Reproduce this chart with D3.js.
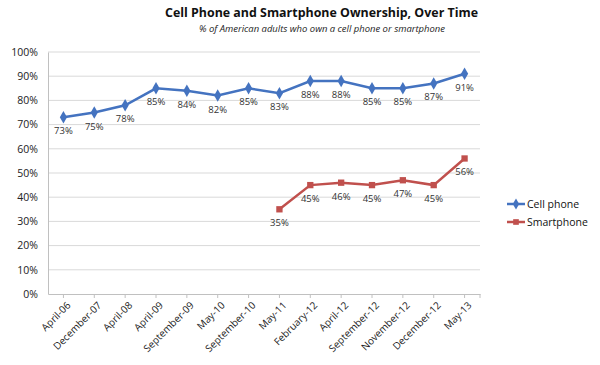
<!DOCTYPE html>
<html><head><meta charset="utf-8">
<script src="https://cdn.jsdelivr.net/npm/d3@7"></script>
<style>body{margin:0;background:#fff}svg{display:block}text{font-family:"Open Sans","Noto Sans",sans-serif}</style>
</head><body><svg id="c" width="600" height="365"></svg>
<script>
const categories = ["April-06","December-07","April-08","April-09","September-09","May-10","September-10","May-11","February-12","April-12","September-12","November-12","December-12","May-13"];
const cellPhone = [73,75,78,85,84,82,85,83,88,88,85,85,87,91];
const smartphone = [null,null,null,null,null,null,null,35,45,46,45,47,45,56];
const yTicks = [0,10,20,30,40,50,60,70,80,90,100];
const seriesNames = ["Cell phone","Smartphone"];

const svg = d3.select("#c");
const m = {l:48, r:480, t:52, b:294};
const x = d3.scaleBand().domain(categories).range([m.l, m.r]);
const y = d3.scaleLinear().domain([0,100]).range([m.b, m.t]);
const cx = d => x(d) + x.bandwidth()/2;

svg.append("text").attr("x",165).attr("y",17)
  .attr("font-size",13).attr("font-weight","bold").attr("fill","#111")
  .attr("textLength",313).attr("lengthAdjust","spacingAndGlyphs")
  .text("Cell Phone and Smartphone Ownership, Over Time");
svg.append("text").attr("x",199).attr("y",31.5)
  .attr("font-size",9.5).attr("font-style","italic").attr("fill","#222")
  .attr("textLength",246).attr("lengthAdjust","spacingAndGlyphs")
  .text("% of American adults who own a cell phone or smartphone");

// gridlines
svg.append("g").selectAll("line").data(yTicks.filter(t=>t>0)).join("line")
  .attr("x1",m.l).attr("x2",m.r).attr("y1",d=>y(d)).attr("y2",d=>y(d))
  .attr("stroke","#d9d9d9").attr("stroke-width",1);

// y axis
const ya = svg.append("g").attr("transform",`translate(${m.l},0)`)
  .call(d3.axisLeft(y).tickValues(yTicks).tickSize(0).tickPadding(10).tickFormat(d=>d+"%"));
ya.select(".domain").attr("stroke","#c0c0c0");
ya.selectAll("text").attr("font-size",10.5).attr("fill","#222").style("font-family",'"Open Sans","Noto Sans",sans-serif');

// x axis
const xa = svg.append("g").attr("transform",`translate(0,${m.b})`)
  .call(d3.axisBottom(x).tickSize(0).tickSizeOuter(0));
xa.select(".domain").attr("stroke","#c0c0c0");
xa.selectAll(".tick line").remove();
xa.selectAll(".tick").append("line").attr("y1",0).attr("y2",4).attr("stroke","#c0c0c0");
svg.append("line").attr("x1",m.r).attr("x2",m.r).attr("y1",m.b).attr("y2",m.b+4).attr("stroke","#c0c0c0");
xa.selectAll("text").attr("font-size",10).attr("fill","#222")
  .style("font-family",'"Open Sans","Noto Sans",sans-serif')
  .attr("text-anchor","end").attr("dx","-0.3em").attr("dy","0.9em").attr("y",5)
  .attr("transform","rotate(-45)");

const series = [
  {name:seriesNames[0], vals:cellPhone, color:"#4473c0", marker:d3.symbolDiamond, size:45},
  {name:seriesNames[1], vals:smartphone, color:"#c0504d", marker:d3.symbolSquare, size:40}
];
series.forEach(s=>{
  const pts = categories.map((c,i)=>({c, v:s.vals[i]})).filter(p=>p.v!=null);
  svg.append("path").datum(pts)
    .attr("d",d3.line().x(p=>cx(p.c)).y(p=>y(p.v)))
    .attr("fill","none").attr("stroke",s.color).attr("stroke-width",2.5);
  svg.append("g").selectAll("path").data(pts).join("path")
    .attr("d",d3.symbol().type(s.marker).size(s.size))
    .attr("transform",p=>`translate(${cx(p.c)},${y(p.v)})`).attr("fill",s.color);
  svg.append("g").selectAll("text").data(pts).join("text")
    .attr("x",p=>cx(p.c)).attr("y",p=>y(p.v)+17).attr("text-anchor","middle")
    .attr("font-size",9.5).attr("fill","#333").text(p=>p.v+"%");
});

// legend
series.forEach((s,i)=>{
  const ly = 204 + i*18;
  svg.append("line").attr("x1",507).attr("x2",525).attr("y1",ly).attr("y2",ly)
    .attr("stroke",s.color).attr("stroke-width",2.5);
  svg.append("path").attr("d",d3.symbol().type(s.marker).size(s.size*0.8)())
    .attr("transform",`translate(516,${ly})`).attr("fill",s.color);
  svg.append("text").attr("x",527).attr("y",ly+4).attr("font-size",10.5).attr("fill","#111").text(s.name);
});
</script></body></html>
